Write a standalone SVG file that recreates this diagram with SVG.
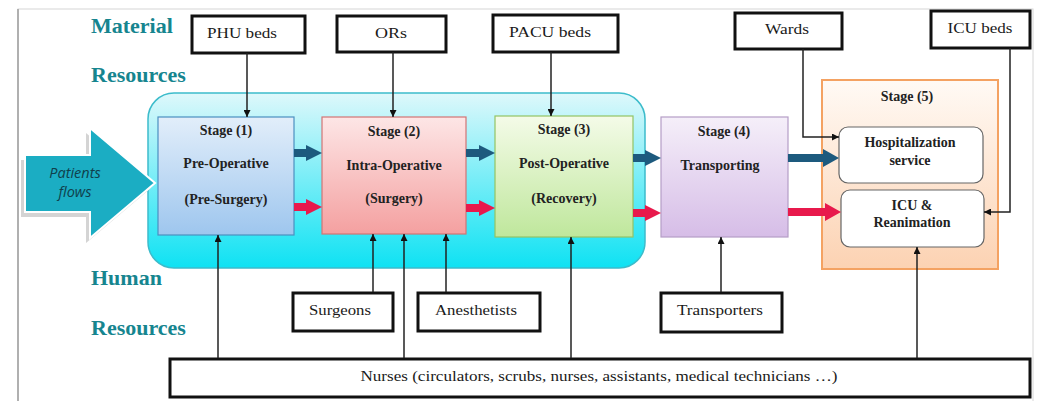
<svg xmlns="http://www.w3.org/2000/svg" width="1039" height="401" viewBox="0 0 1039 401">
<defs>
<style>
.lbl{fill:#fff;stroke:#111;stroke-width:3}
.lt{font-family:"Liberation Serif",serif;font-size:15.5px;fill:#1a1a1a;text-anchor:middle}
.st{font-family:"Liberation Serif",serif;font-size:14px;font-weight:bold;fill:#222;text-anchor:middle}
.res{font-family:"Liberation Serif",serif;font-size:22px;font-weight:bold;fill:#16858f}
.con{fill:none;stroke:#222;stroke-width:1.5}
.blue{fill:#1d5a7e}
.red{fill:#e8194c}
</style>
<marker id="ah" viewBox="0 0 10 10" refX="10" refY="5" markerWidth="7" markerHeight="7" markerUnits="userSpaceOnUse" orient="auto"><path d="M0,0 L10,5 L0,10 z" fill="#111"/></marker>
<linearGradient id="gCont" x1="0" y1="0" x2="0" y2="1"><stop offset="0" stop-color="#def8fb"/><stop offset="1" stop-color="#0ee2f3"/></linearGradient>
<linearGradient id="g1" x1="0" y1="0" x2="0" y2="1"><stop offset="0" stop-color="#e2eefa"/><stop offset="1" stop-color="#9ec6ee"/></linearGradient>
<linearGradient id="g2" x1="0" y1="0" x2="0" y2="1"><stop offset="0" stop-color="#fde6e6"/><stop offset="1" stop-color="#f4a0a0"/></linearGradient>
<linearGradient id="g3" x1="0" y1="0" x2="0" y2="1"><stop offset="0" stop-color="#f4fbe8"/><stop offset="1" stop-color="#bfe79c"/></linearGradient>
<linearGradient id="g4" x1="0" y1="0" x2="0" y2="1"><stop offset="0" stop-color="#f5eff9"/><stop offset="1" stop-color="#d6bde7"/></linearGradient>
<linearGradient id="g5" x1="0" y1="0" x2="0" y2="1"><stop offset="0" stop-color="#fffaf5"/><stop offset="1" stop-color="#fcd2b2"/></linearGradient>
</defs>
<rect x="0" y="0" width="1039" height="401" fill="#fff"/>
<rect x="18" y="9" width="1015" height="400" fill="#fff" stroke="#d6d6d6" stroke-width="1"/>
<line x1="18" y1="9" x2="18" y2="401" stroke="#b0b0b0" stroke-width="2"/>

<g id="labels">
<text class="res" x="91" y="33">Material</text>
<text class="res" x="91" y="82">Resources</text>
<text class="res" x="91" y="285">Human</text>
<text class="res" x="91" y="335">Resources</text>
</g>

<g id="container"><rect x="148" y="93" width="497" height="175" rx="26" fill="url(#gCont)" stroke="#3cbccb" stroke-width="1.5"/></g>

<g id="patients">
<polygon points="21,160 86,160 86,133 151,188 86,243 86,217 21,217" fill="#d4d4d4"/>
<polygon points="25,155 90,155 90,128 155,183 90,238 90,212 25,212" fill="#1badc3" stroke="#fff" stroke-width="2"/>
<text x="75" y="178" font-family="Open Sans,sans-serif" font-size="14.5" font-style="italic" fill="#10404c" text-anchor="middle">Patients</text>
<text x="75" y="197" font-family="Open Sans,sans-serif" font-size="14.5" font-style="italic" fill="#10404c" text-anchor="middle">flows</text>
</g>

<g id="stage1"><rect x="158" y="117" width="136" height="118" fill="url(#g1)" stroke="#4b8fc0" stroke-width="1.2"/>
<text class="st" x="226" y="135">Stage (1)</text><text class="st" x="226" y="168">Pre-Operative</text><text class="st" x="226" y="204">(Pre-Surgery)</text></g>
<g id="stage2"><rect x="322" y="117" width="144" height="117" fill="url(#g2)" stroke="#d27474" stroke-width="1.2"/>
<text class="st" x="394" y="136">Stage (2)</text><text class="st" x="394" y="170">Intra-Operative</text><text class="st" x="394" y="203">(Surgery)</text></g>
<g id="stage3"><rect x="495" y="116" width="138" height="121" fill="url(#g3)" stroke="#93c464" stroke-width="1.2"/>
<text class="st" x="564" y="134">Stage (3)</text><text class="st" x="564" y="168">Post-Operative</text><text class="st" x="564" y="203">(Recovery)</text></g>
<g id="stage4"><rect x="661" y="117" width="127" height="120" fill="url(#g4)" stroke="#b59dc6" stroke-width="1.2"/>
<text class="st" x="724" y="136">Stage (4)</text><text class="st" x="720" y="170">Transporting</text></g>
<g id="stage5"><rect x="822" y="80" width="176" height="189" fill="url(#g5)" stroke="#f4a262" stroke-width="2"/>
<text class="st" x="907" y="101">Stage (5)</text></g>
<g id="hosp"><rect x="839" y="127" width="144" height="56" rx="9" fill="#fff" stroke="#666" stroke-width="1.2"/>
<text class="st" x="910" y="147">Hospitalization</text><text class="st" x="910" y="165">service</text></g>
<g id="icu"><rect x="841" y="190" width="143" height="57" rx="9" fill="#fff" stroke="#666" stroke-width="1.2"/>
<text class="st" x="912" y="210">ICU &amp;</text><text class="st" x="912" y="227">Reanimation</text></g>

<g id="phu"><rect class="lbl" x="192" y="16" width="113" height="37"/><text class="lt" x="242" y="38" textLength="70" lengthAdjust="spacingAndGlyphs">PHU beds</text></g>
<g id="ors"><rect class="lbl" x="337" y="16" width="109" height="36"/><text class="lt" x="391" y="38" textLength="32" lengthAdjust="spacingAndGlyphs">ORs</text></g>
<g id="pacu"><rect class="lbl" x="493" y="15" width="125" height="37"/><text class="lt" x="550" y="37" textLength="82" lengthAdjust="spacingAndGlyphs">PACU beds</text></g>
<g id="wards"><rect class="lbl" x="735" y="13" width="107" height="36"/><text class="lt" x="787" y="34" textLength="44" lengthAdjust="spacingAndGlyphs">Wards</text></g>
<g id="icubeds"><rect class="lbl" x="931" y="11" width="99" height="37"/><text class="lt" x="980" y="33" textLength="65" lengthAdjust="spacingAndGlyphs">ICU beds</text></g>
<g id="surgeons"><rect class="lbl" x="293" y="293" width="100" height="38"/><text class="lt" x="340" y="315" textLength="62" lengthAdjust="spacingAndGlyphs">Surgeons</text></g>
<g id="anest"><rect class="lbl" x="418" y="293" width="122" height="38"/><text class="lt" x="476" y="315" textLength="82" lengthAdjust="spacingAndGlyphs">Anesthetists</text></g>
<g id="transporters"><rect class="lbl" x="661" y="293" width="121" height="39"/><text class="lt" x="720" y="315" textLength="86" lengthAdjust="spacingAndGlyphs">Transporters</text></g>
<g id="nurses"><rect class="lbl" x="170" y="359" width="860" height="38"/><text class="lt" x="599" y="381" textLength="477" lengthAdjust="spacingAndGlyphs">Nurses (circulators, scrubs, nurses, assistants, medical technicians …)</text></g>

<g id="connectors">
<line class="con" x1="247" y1="53" x2="247" y2="117" marker-end="url(#ah)"/>
<line class="con" x1="393" y1="52" x2="393" y2="117" marker-end="url(#ah)"/>
<line class="con" x1="551" y1="52" x2="551" y2="116" marker-end="url(#ah)"/>
<polyline class="con" points="803,49 803,137 839,137" marker-end="url(#ah)"/>
<polyline class="con" points="1010,48 1010,212 984,212" marker-end="url(#ah)"/>
<line class="con" x1="218" y1="358" x2="218" y2="235" marker-end="url(#ah)"/>
<line class="con" x1="373" y1="292" x2="373" y2="234" marker-end="url(#ah)"/>
<line class="con" x1="404" y1="358" x2="404" y2="234" marker-end="url(#ah)"/>
<line class="con" x1="446" y1="292" x2="446" y2="234" marker-end="url(#ah)"/>
<line class="con" x1="571" y1="358" x2="571" y2="237" marker-end="url(#ah)"/>
<line class="con" x1="721" y1="292" x2="721" y2="237" marker-end="url(#ah)"/>
<line class="con" x1="917" y1="358" x2="917" y2="247" marker-end="url(#ah)"/>
<polygon class="blue" points="294,149 306,149 306,145 322,153 306,161 306,157 294,157"/>
<polygon class="red" points="294,203 306,203 306,199 322,207 306,215 306,211 294,211"/>
<polygon class="blue" points="466,149 479,149 479,145 495,153 479,161 479,157 466,157"/>
<polygon class="red" points="466,204 479,204 479,200 495,208 479,216 479,212 466,212"/>
<polygon class="blue" points="633,154 645,154 645,150 661,158 645,166 645,162 633,162"/>
<polygon class="red" points="633,209 645,209 645,205 661,213 645,221 645,217 633,217"/>
<polygon class="blue" points="788,154 823,154 823,149 839,158 823,167 823,162 788,162"/>
<polygon class="red" points="788,208 825,208 825,203 841,212 825,221 825,216 788,216"/>
</g>
</svg>
